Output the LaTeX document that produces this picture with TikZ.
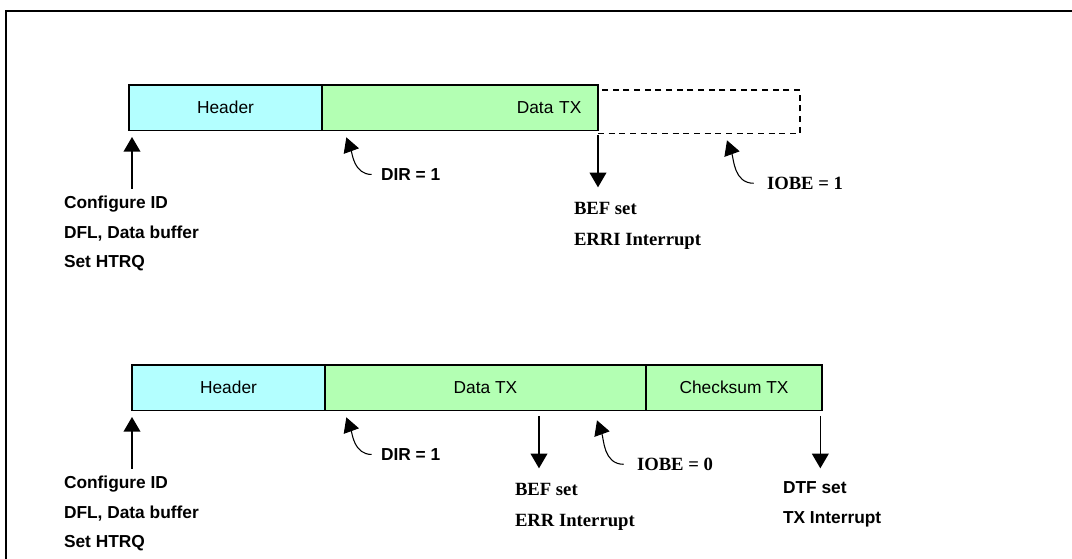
\documentclass[tikz,border=0pt]{standalone}
\usepackage{fontspec}
\setmainfont{Liberation Sans}
\newfontfamily\tnrfont{Liberation Serif}
\usetikzlibrary{arrows.meta}
\definecolor{hdrcyan}{RGB}{179,255,255}
\definecolor{datagreen}{RGB}{179,255,179}

\begin{document}
\begin{tikzpicture}[x=0.75pt, y=-0.75pt,
    fieldbox/.style={draw, line width=1pt, anchor=north west, inner sep=0pt, outer sep=0pt,
      minimum height=34pt, font=\fontsize{13}{15}\selectfont},
    notetext/.style={anchor=north west, inner sep=0pt, outer sep=0pt, align=left,
      font=\bfseries\fontsize{13}{22.1}\selectfont},
    tnrtext/.style={notetext, font=\tnrfont\bfseries\fontsize{14}{23.25}\selectfont},
    arr/.style={-{Triangle[width=12.5pt,length=11pt]}, line width=1.2pt},
    curvarr/.style={-{Triangle[width=12pt,length=11pt]}, line width=0.8pt}]
  \useasboundingbox (0,0) rectangle (1072,559);
  \draw[line width=1.2pt] (6,559) -- (6,11) -- (1072,11);
  % header, set-up text and DIR for both frames
  \foreach \r/\x/\y in {1/129/85,2/132/365}{
    \node[fieldbox, fill=hdrcyan, minimum width=144.75pt] (hdr\r) at (\x,\y) {Header};
    \node[notetext] (cfg\r) at (64,\y+111) {Configure ID\\DFL, Data buffer\\Set HTRQ};
    \node[notetext] (dir\r) at (381,\y+83.5) {DIR = 1};
    \draw[arr] ([xshift=51pt,yshift=5.5pt]cfg\r.north west) -- ([xshift=51pt,yshift=-5pt]cfg\r.north west |- hdr\r.south);
    \draw[curvarr] ([xshift=-7pt]dir\r.west) to[out=180,in=-70] ([xshift=-26pt,yshift=-5.25pt]dir\r.west |- hdr\r.south);
  }
  % frame 1
  \node[fieldbox, fill=datagreen, minimum width=207pt, inner xsep=12.5pt, text width=182pt, align=right] (data1) at (hdr1.north east) {Data TX};
  \node[fieldbox, line width=1.2pt, dash pattern=on 4.5pt off 3.5pt, minimum width=151.5pt, minimum height=32.5pt] (spare1) at (598,90) {};
  \node[tnrtext] (bef1) at (574,202) {BEF set\\ERRI Interrupt};
  \node[tnrtext] (iobe1) at (767,177) {IOBE = 1};
  \draw[arr] ([yshift=-3.75pt]data1.south east) -- ([yshift=11pt]bef1.north -| data1.south east);
  \draw[curvarr] ([xshift=-10pt]iobe1.west) to[out=180,in=-70] ([xshift=-30pt,yshift=-7.5pt]iobe1.west |- data1.south);
  % frame 2
  \node[fieldbox, fill=datagreen, minimum width=240.75pt] (data2) at (hdr2.north east) {Data TX};
  \node[fieldbox, fill=datagreen, minimum width=132pt] (chk2) at (data2.north east) {Checksum TX};
  \node[tnrtext] (bef2) at (515,483) {BEF set\\ERR Interrupt};
  \node[tnrtext] (iobe2) at (637,458) {IOBE = 0};
  \node[notetext] (dtf2) at (783,482) {DTF set\\TX Interrupt};
  \draw[arr] ([xshift=18pt,yshift=-4.25pt]bef2.north west |- data2.south) -- ([xshift=18pt,yshift=11pt]bef2.north west);
  \draw[curvarr] ([xshift=-10pt]iobe2.west) to[out=180,in=-70] ([xshift=-30pt,yshift=-7.5pt]iobe2.west |- data2.south);
  \draw[arr] ([xshift=-1.25pt,yshift=-4.25pt]chk2.south east) -- ([xshift=-1.25pt,yshift=10.25pt]dtf2.north -| chk2.south east);
\end{tikzpicture}
\end{document}
